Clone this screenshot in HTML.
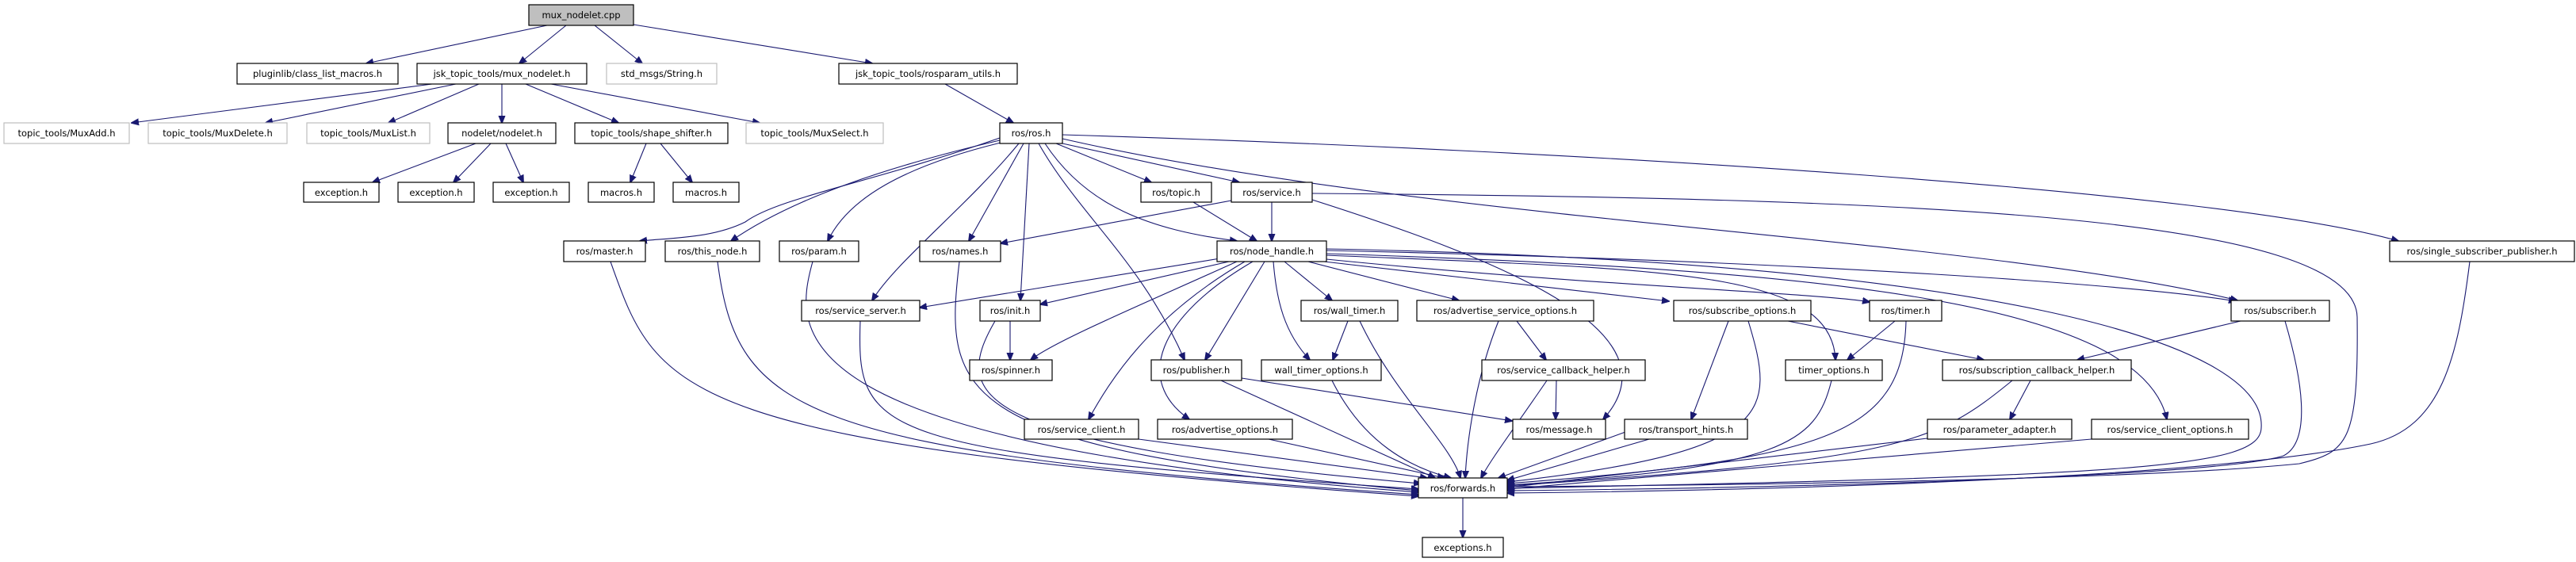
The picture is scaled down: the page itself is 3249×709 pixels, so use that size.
<!DOCTYPE html>
<html><head><meta charset="utf-8"><style>
html,body{margin:0;padding:0;background:#fff;}
svg{display:block;}
text{font-family:"DejaVu Sans","Liberation Sans",sans-serif;font-size:11.5px;fill:#000;}
.b{fill:#fff;stroke:#000;stroke-width:1.2;}
.g{fill:#fff;stroke:#bfbfbf;stroke-width:1.2;}
.e{fill:none;stroke:#191970;stroke-width:1.1;marker-end:url(#a);}
</style></head><body>
<svg width="3249" height="709" viewBox="0 0 3249 709" xmlns="http://www.w3.org/2000/svg">
<defs><marker id="a" viewBox="0 0 10 10" refX="9" refY="5" markerWidth="10" markerHeight="10" markerUnits="userSpaceOnUse" orient="auto"><path d="M0,1 L10,5 L0,9 z" fill="#191970" stroke="#191970"/></marker></defs>
<g>
<path class="e" d="M690,32 L462,80"/>
<path class="e" d="M714,32 L655,80"/>
<path class="e" d="M750,32 L810,80"/>
<path class="e" d="M799,31 L1100,80"/>
<path class="e" d="M545,106 L166,155"/>
<path class="e" d="M575,106 L335,155"/>
<path class="e" d="M604,106 L490,155"/>
<path class="e" d="M633,106 L633,155"/>
<path class="e" d="M663,106 L780,155"/>
<path class="e" d="M695,106 L958,155"/>
<path class="e" d="M600,181 L470,230"/>
<path class="e" d="M619,181 L572,230"/>
<path class="e" d="M638,181 L660,230"/>
<path class="e" d="M815,181 L795,230"/>
<path class="e" d="M833,181 L873,230"/>
<path class="e" d="M1192,106 L1278,155"/>
<path class="e" d="M1261,174 C1100,230 980,250 940,280 C900,300 850,300 807,304"/>
<path class="e" d="M1261,177 C1120,210 1000,250 922,304"/>
<path class="e" d="M1262,180 C1140,210 1070,250 1044,304"/>
<path class="e" d="M1285,181 C1220,260 1130,330 1100,379"/>
<path class="e" d="M1291,181 L1222,304"/>
<path class="e" d="M1298,181 L1287,379"/>
<path class="e" d="M1310,181 C1360,270 1440,330 1494,454"/>
<path class="e" d="M1318,181 C1370,260 1450,290 1560,304"/>
<path class="e" d="M1332,181 L1452,230"/>
<path class="e" d="M1340,181 L1563,230"/>
<path class="e" d="M1340,175 C1800,280 2500,300 2822,379"/>
<path class="e" d="M1340,170 C2000,190 2800,240 3025,304"/>
<path class="e" d="M1604,255 L1604,304"/>
<path class="e" d="M1505,255 L1585,304"/>
<path class="e" d="M1553,253 L1262,307"/>
<path class="e" d="M1655,244 C2400,250 2970,270 2973,400 C2975,560 2960,570 2900,585 C2700,605 2200,612 1901,614"/>
<path class="e" d="M1655,252 C1900,330 2120,420 2022,529"/>
<path class="e" d="M1545,325 L1160,388"/>
<path class="e" d="M1550,330 L1312,384"/>
<path class="e" d="M1560,330 C1450,380 1330,430 1300,454"/>
<path class="e" d="M1570,330 C1450,400 1400,480 1373,529"/>
<path class="e" d="M1580,330 C1460,400 1430,480 1500,529"/>
<path class="e" d="M1595,330 L1520,454"/>
<path class="e" d="M1606,330 C1610,380 1620,420 1652,454"/>
<path class="e" d="M1620,330 L1680,379"/>
<path class="e" d="M1650,330 L1840,379"/>
<path class="e" d="M1670,330 L2105,380"/>
<path class="e" d="M1673,327 C2000,360 2300,370 2358,381"/>
<path class="e" d="M1673,322 C2100,340 2310,340 2315,454"/>
<path class="e" d="M1673,320 C2300,340 2700,380 2733,529"/>
<path class="e" d="M1673,316 C2300,330 2700,360 2820,380"/>
<path class="e" d="M1673,314 C2500,330 2860,430 2852,540 C2850,590 2700,600 1901,616"/>
<path class="e" d="M770,330 C830,500 850,560 1789,626"/>
<path class="e" d="M905,330 C930,520 1000,570 1789,624"/>
<path class="e" d="M1025,330 C1000,420 980,560 1789,621"/>
<path class="e" d="M1210,330 C1190,500 1200,565 1789,619"/>
<path class="e" d="M1085,405 C1080,550 1100,570 1789,617"/>
<path class="e" d="M1255,405 C1200,500 1220,560 1792,610"/>
<path class="e" d="M1274,405 L1274,454"/>
<path class="e" d="M1436,554 L1800,603"/>
<path class="e" d="M1600,554 L1822,603"/>
<path class="e" d="M1540,480 L1810,603"/>
<path class="e" d="M1566,477 L1907,531"/>
<path class="e" d="M1700,405 L1681,454"/>
<path class="e" d="M1715,405 C1760,500 1830,560 1842,603"/>
<path class="e" d="M1680,480 C1720,560 1780,590 1830,603"/>
<path class="e" d="M1890,405 C1860,480 1850,560 1848,603"/>
<path class="e" d="M1913,405 L1950,454"/>
<path class="e" d="M1963,480 L1962,529"/>
<path class="e" d="M1951,480 C1910,540 1880,580 1868,603"/>
<path class="e" d="M2050,545 L1890,603"/>
<path class="e" d="M2180,405 L2133,529"/>
<path class="e" d="M2205,405 C2240,520 2240,570 1901,608"/>
<path class="e" d="M2255,405 L2502,454"/>
<path class="e" d="M2390,405 L2330,454"/>
<path class="e" d="M2404,405 C2400,550 2300,580 1901,610"/>
<path class="e" d="M2310,480 C2290,560 2250,590 1901,612"/>
<path class="e" d="M2080,554 L1901,606"/>
<path class="e" d="M2561,480 L2535,529"/>
<path class="e" d="M2538,480 C2440,560 2400,580 1901,613"/>
<path class="e" d="M2431,553 L1901,615"/>
<path class="e" d="M2638,554 L1901,617"/>
<path class="e" d="M2826,405 L2620,454"/>
<path class="e" d="M2882,405 C2910,500 2910,560 2880,575 C2800,600 2300,615 1901,619"/>
<path class="e" d="M3115,330 C3100,450 3080,540 2990,560 C2800,600 2300,618 1901,622"/>
<path class="e" d="M1845,628 L1845,678"/>
</g>
<g>
<rect x="667" y="6" width="132" height="26" fill="#bfbfbf" stroke="#000" stroke-width="1.2"/><text x="733" y="23" text-anchor="middle">mux_nodelet.cpp</text>
<rect class="b" x="299" y="80" width="203" height="26"/><text x="400.5" y="97" text-anchor="middle">pluginlib/class_list_macros.h</text>
<rect class="b" x="526" y="80" width="214" height="26"/><text x="633" y="97" text-anchor="middle">jsk_topic_tools/mux_nodelet.h</text>
<rect class="g" x="765" y="80" width="139" height="26"/><text x="834.5" y="97" text-anchor="middle">std_msgs/String.h</text>
<rect class="b" x="1058" y="80" width="225" height="26"/><text x="1170.5" y="97" text-anchor="middle">jsk_topic_tools/rosparam_utils.h</text>
<rect class="g" x="5" y="155" width="158" height="26"/><text x="84" y="172" text-anchor="middle">topic_tools/MuxAdd.h</text>
<rect class="g" x="187" y="155" width="175" height="26"/><text x="274.5" y="172" text-anchor="middle">topic_tools/MuxDelete.h</text>
<rect class="g" x="387" y="155" width="155" height="26"/><text x="464.5" y="172" text-anchor="middle">topic_tools/MuxList.h</text>
<rect class="b" x="565" y="155" width="136" height="26"/><text x="633" y="172" text-anchor="middle">nodelet/nodelet.h</text>
<rect class="b" x="725" y="155" width="193" height="26"/><text x="821.5" y="172" text-anchor="middle">topic_tools/shape_shifter.h</text>
<rect class="g" x="941" y="155" width="173" height="26"/><text x="1027.5" y="172" text-anchor="middle">topic_tools/MuxSelect.h</text>
<rect class="b" x="1261" y="155" width="79" height="26"/><text x="1300.5" y="172" text-anchor="middle">ros/ros.h</text>
<rect class="b" x="383" y="230" width="95" height="25"/><text x="430.5" y="247" text-anchor="middle">exception.h</text>
<rect class="b" x="502" y="230" width="96" height="25"/><text x="550" y="247" text-anchor="middle">exception.h</text>
<rect class="b" x="622" y="230" width="96" height="25"/><text x="670" y="247" text-anchor="middle">exception.h</text>
<rect class="b" x="742" y="230" width="83" height="25"/><text x="783.5" y="247" text-anchor="middle">macros.h</text>
<rect class="b" x="849" y="230" width="83" height="25"/><text x="890.5" y="247" text-anchor="middle">macros.h</text>
<rect class="b" x="1439" y="230" width="89" height="25"/><text x="1483.5" y="247" text-anchor="middle">ros/topic.h</text>
<rect class="b" x="1553" y="230" width="102" height="25"/><text x="1604" y="247" text-anchor="middle">ros/service.h</text>
<rect class="b" x="711" y="304" width="103" height="26"/><text x="762.5" y="321" text-anchor="middle">ros/master.h</text>
<rect class="b" x="839" y="304" width="119" height="26"/><text x="898.5" y="321" text-anchor="middle">ros/this_node.h</text>
<rect class="b" x="983" y="304" width="100" height="26"/><text x="1033" y="321" text-anchor="middle">ros/param.h</text>
<rect class="b" x="1160" y="304" width="102" height="26"/><text x="1211" y="321" text-anchor="middle">ros/names.h</text>
<rect class="b" x="1535" y="304" width="138" height="26"/><text x="1604" y="321" text-anchor="middle">ros/node_handle.h</text>
<rect class="b" x="3014" y="304" width="233" height="26"/><text x="3130.5" y="321" text-anchor="middle">ros/single_subscriber_publisher.h</text>
<rect class="b" x="1011" y="379" width="149" height="26"/><text x="1085.5" y="396" text-anchor="middle">ros/service_server.h</text>
<rect class="b" x="1236" y="379" width="76" height="26"/><text x="1274" y="396" text-anchor="middle">ros/init.h</text>
<rect class="b" x="1641" y="379" width="122" height="26"/><text x="1702" y="396" text-anchor="middle">ros/wall_timer.h</text>
<rect class="b" x="1787" y="379" width="223" height="26"/><text x="1898.5" y="396" text-anchor="middle">ros/advertise_service_options.h</text>
<rect class="b" x="2111" y="379" width="173" height="26"/><text x="2197.5" y="396" text-anchor="middle">ros/subscribe_options.h</text>
<rect class="b" x="2358" y="379" width="91" height="26"/><text x="2403.5" y="396" text-anchor="middle">ros/timer.h</text>
<rect class="b" x="2814" y="379" width="124" height="26"/><text x="2876" y="396" text-anchor="middle">ros/subscriber.h</text>
<rect class="b" x="1223" y="454" width="104" height="26"/><text x="1275" y="471" text-anchor="middle">ros/spinner.h</text>
<rect class="b" x="1452" y="454" width="114" height="26"/><text x="1509" y="471" text-anchor="middle">ros/publisher.h</text>
<rect class="b" x="1591" y="454" width="151" height="26"/><text x="1666.5" y="471" text-anchor="middle">wall_timer_options.h</text>
<rect class="b" x="1869" y="454" width="206" height="26"/><text x="1972" y="471" text-anchor="middle">ros/service_callback_helper.h</text>
<rect class="b" x="2252" y="454" width="122" height="26"/><text x="2313" y="471" text-anchor="middle">timer_options.h</text>
<rect class="b" x="2450" y="454" width="238" height="26"/><text x="2569" y="471" text-anchor="middle">ros/subscription_callback_helper.h</text>
<rect class="b" x="1292" y="529" width="144" height="25"/><text x="1364" y="546" text-anchor="middle">ros/service_client.h</text>
<rect class="b" x="1460" y="529" width="170" height="25"/><text x="1545" y="546" text-anchor="middle">ros/advertise_options.h</text>
<rect class="b" x="1908" y="529" width="117" height="25"/><text x="1966.5" y="546" text-anchor="middle">ros/message.h</text>
<rect class="b" x="2049" y="529" width="155" height="25"/><text x="2126.5" y="546" text-anchor="middle">ros/transport_hints.h</text>
<rect class="b" x="2431" y="529" width="182" height="25"/><text x="2522" y="546" text-anchor="middle">ros/parameter_adapter.h</text>
<rect class="b" x="2638" y="529" width="198" height="25"/><text x="2737" y="546" text-anchor="middle">ros/service_client_options.h</text>
<rect class="b" x="1789" y="603" width="112" height="25"/><text x="1845" y="620" text-anchor="middle">ros/forwards.h</text>
<rect class="b" x="1794" y="678" width="102" height="25"/><text x="1845" y="695" text-anchor="middle">exceptions.h</text>
</g>
</svg>
</body></html>
